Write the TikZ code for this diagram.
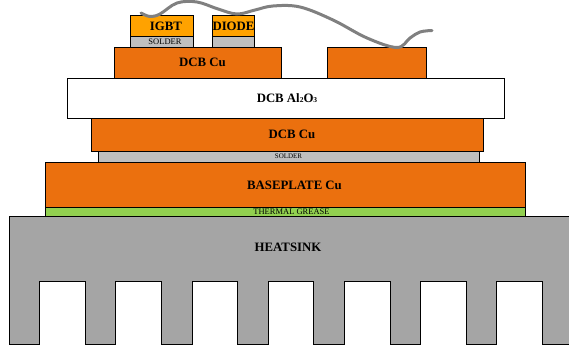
\documentclass[tikz,border=0pt]{standalone}
\usepackage{fontspec}
\setmainfont{Liberation Serif}
\usepackage{tikz}
\usetikzlibrary{positioning}
\definecolor{cu}{HTML}{EB700E}
\definecolor{chip}{HTML}{FFA200}
\definecolor{sol}{HTML}{BFBFBF}
\definecolor{grease}{HTML}{92D050}
\definecolor{sink}{HTML}{A5A5A5}
\newcommand{\lowsub}[1]{\raisebox{-.5pt}{\fontsize{7.5}{8}\selectfont #1}}

\begin{document}
\begin{tikzpicture}[x=1pt,y=-1pt]
\tikzstyle{lyr}=[draw, line width=.8pt, inner sep=0pt, outer sep=0pt, anchor=north west]
\tikzstyle{lbl}=[inner sep=0pt, font=\bfseries\fontsize{12.8}{14}\selectfont]
\tikzstyle{thin}=[inner sep=0pt, font=\fontsize{8.5}{10}\selectfont]
\tikzstyle{wire}=[draw=black!50, line width=3pt, line cap=round]
\useasboundingbox (0,0) rectangle (569,347);
\draw[fill=sink, line width=.8pt] (9,216.5) -- (575,216.5) -- (575,344.5)
  \foreach \x in {496.7,420.5,344.3,268,192,115.7,39.5}{ -- (\x+45.7,344.5) -- (\x+45.7,281) -- (\x,281) -- (\x,344.5)}
  -- (9,344.5) -- cycle;
\foreach \n/\x/\y/\w/\h/\c in {base/45.5/162/480/45.5/cu, grs/45.5/207.5/480/9/grease,
  solB/98/151.5/381.5/10.5/sol, cuB/91.5/118/392/33.5/cu, cer/67/78/437.5/40/white,
  cuT/114/47/167.5/31/cu, pad/327.5/47/98.7/31/cu, solI/130.5/36.5/62.7/10.5/sol,
  solD/212.5/36.5/41.7/10.5/sol, igbt/130.5/15.5/62.7/21/chip, diode/212.5/15.5/41.7/21/chip}{
  \node[lyr, fill=\c, minimum width=\w pt, minimum height=\h pt] (\n) at (\x,\y){};}
% labels
\foreach \n/\x/\y/\t in {sinklbl/288/247/HEATSINK, baselbl/294.5/185/BASEPLATE Cu, cuBlbl/292/134.5/DCB Cu,
  cerlbl/287/98/DCB Al\lowsub{2}O\lowsub{3}, cuTlbl/202.5/62.5/DCB Cu, igbtlbl/166/26.5/IGBT, diodelbl/233.5/26/DIODE}{
  \node[lbl] (\n) at (\x,\y){\t};}
\foreach \n/\x/\y/\t in {grslbl/291.5/212/THERMAL GREASE, solIlbl/165/41.5/SOLDER}{
  \node[thin] (\n) at (\x,\y){\t};}
\node[thin, font=\fontsize{7}{8}\selectfont] (solBlbl) at (288.5,156.5){SOLDER};
\draw[wire] plot[smooth, tension=.6] coordinates {(141,13) (150,16.5) (160,14) (177,3) (197,2) (218,9) (237,14) (255,10) (273,6) (300,7) (333,20) (367,38) (397,47.5) (410,38) (420,32) (432,30.5)};
\end{tikzpicture}
\end{document}
